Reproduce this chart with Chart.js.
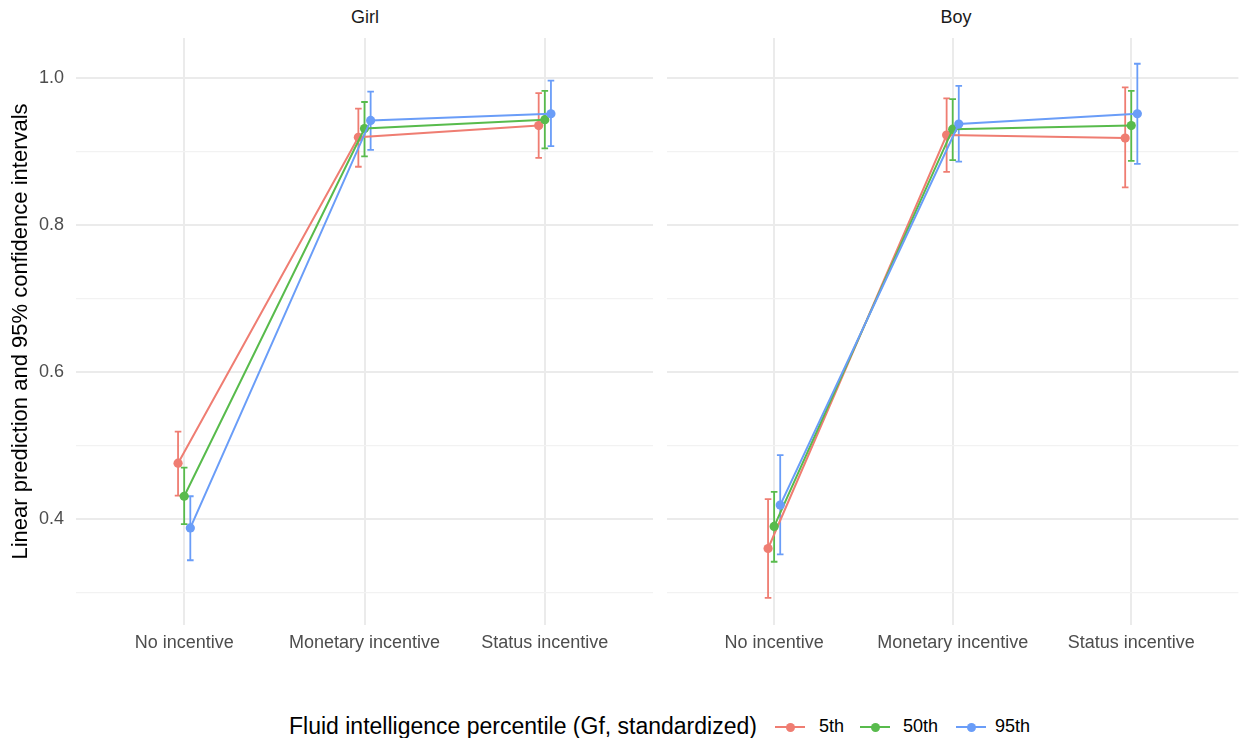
<!DOCTYPE html>
<html>
<head>
<meta charset="utf-8">
<script src="https://cdn.jsdelivr.net/npm/chart.js@4/dist/chart.umd.min.js"></script>
<style>
  html, body { margin: 0; padding: 0; background: #ffffff; }
  body { width: 1243px; height: 738px; position: relative; overflow: hidden;
         font-family: "Liberation Sans", Arial, Helvetica, sans-serif; }
  .panel { position: absolute; }
  .strip { position: absolute; top: 7px; font-size: 18px; line-height: 21px; color: #1A1A1A; transform: translateX(-50%); white-space: nowrap; }
  .lg { position: absolute; white-space: nowrap; color: #000; }
  .lg.ttl { left: 289px; top: 712px; font-size: 23px; line-height: 28px; }
  .lg.txt { top: 715px; font-size: 18px; line-height: 22px; }
  .lg.sym { top: 718px; width: 30px; height: 18px; }
  .lg.sym .ln { position: absolute; left: 0; right: 0; top: 8px; height: 2px; }
  .lg.sym .pt { position: absolute; left: 10.5px; top: 4.5px; width: 9px; height: 9px; border-radius: 50%; }
</style>
</head>
<body>
<div class="strip" style="left:365px">Girl</div>
<div class="strip" style="left:956px">Boy</div>
<div class="panel" style="left:0px;top:28px;width:660px;height:640px"><canvas id="girl"></canvas></div>
<div class="panel" style="left:660px;top:28px;width:583px;height:640px"><canvas id="boy"></canvas></div>
<div id="legend"></div>
<script>
// Categories and series
const categories = ['No incentive', 'Monetary incentive', 'Status incentive'];
const seriesNames = ['5th', '50th', '95th'];
const seriesColors = ['#EF7D72', '#58BB4C', '#6A9DF8'];

// Girl: predictions with lower / upper 95% bounds
const girl5  = [0.476, 0.919, 0.935];
const girl5Lo = [0.432, 0.879, 0.891];
const girl5Hi = [0.519, 0.958, 0.979];
const girl50 = [0.431, 0.931, 0.943];
const girl50Lo = [0.393, 0.893, 0.904];
const girl50Hi = [0.470, 0.967, 0.982];
const girl95 = [0.388, 0.942, 0.951];
const girl95Lo = [0.344, 0.902, 0.907];
const girl95Hi = [0.431, 0.981, 0.996];

// Boy: predictions with lower / upper 95% bounds
const boy5  = [0.360, 0.922, 0.918];
const boy5Lo = [0.293, 0.872, 0.851];
const boy5Hi = [0.427, 0.972, 0.987];
const boy50 = [0.390, 0.930, 0.935];
const boy50Lo = [0.342, 0.888, 0.887];
const boy50Hi = [0.437, 0.971, 0.982];
const boy95 = [0.419, 0.937, 0.951];
const boy95Lo = [0.352, 0.886, 0.883];
const boy95Hi = [0.487, 0.989, 1.019];

// y-axis ticks: labelled majors and unlabelled minors
const yMajorTicks = [0.4, 0.6, 0.8, 1.0];
const yMinorTicks = [0.3, 0.5, 0.7, 0.9];

const Y_MIN = 0.256, Y_MAX = 1.054;
const DODGE = 0.034;          // horizontal dodge between series, in category units
const FONT = '"Liberation Sans", Arial, Helvetica, sans-serif';

function makeDatasets(vals, los, his) {
  return vals.map((v, s) => ({
    label: seriesNames[s],
    data: v.map((y, i) => ({ x: i + (s - 1) * DODGE, y: y, lo: los[s][i], hi: his[s][i] })),
    borderColor: seriesColors[s],
    backgroundColor: seriesColors[s],
    borderWidth: 2,
    pointRadius: 4.6,
    pointBorderWidth: 0,
    pointHoverRadius: 4.6,
    showLine: true,
    tension: 0,
    order: 2 - s
  }));
}

// Error bars drawn through the chart's own scales
const errorBars = {
  id: 'errorBars',
  beforeDatasetsDraw(chart) {
    const ctx = chart.ctx;
    const xs = chart.scales.x, ys = chart.scales.y;
    const metas = chart.getSortedVisibleDatasetMetas().slice().reverse();
    metas.forEach(meta => {
      const ds = chart.data.datasets[meta.index];
      ctx.save();
      ctx.strokeStyle = ds.borderColor;
      ctx.lineWidth = 1.8;
      ds.data.forEach(p => {
        const x = xs.getPixelForValue(p.x);
        const y1 = ys.getPixelForValue(p.lo);
        const y2 = ys.getPixelForValue(p.hi);
        ctx.beginPath();
        ctx.moveTo(x, y1); ctx.lineTo(x, y2);
        ctx.moveTo(x - 3.3, y1); ctx.lineTo(x + 3.3, y1);
        ctx.moveTo(x - 3.3, y2); ctx.lineTo(x + 3.3, y2);
        ctx.stroke();
      });
      ctx.restore();
    });
  }
};

function makeChart(id, datasets, showY) {
  return new Chart(document.getElementById(id), {
    type: 'line',
    data: { datasets: datasets },
    plugins: [errorBars],
    options: {
      responsive: true,
      maintainAspectRatio: false,
      animation: false,
      events: [],
      layout: { padding: showY ? { top: 10, right: 7, left: 0, bottom: 0 } : { top: 10, right: 2, left: 7, bottom: 0 } },
      plugins: { legend: { display: false }, tooltip: { enabled: false } },
      scales: {
        x: {
          type: 'linear',
          min: -0.6, max: 2.6,
          afterBuildTicks: sc => { sc.ticks = categories.map((c, i) => ({ value: i })); },
          afterFit: sc => { sc.height = 43; sc.paddingLeft = 0; sc.paddingRight = 0; },
          ticks: {
            callback: v => categories[v],
            color: '#4D4D4D',
            font: { family: FONT, size: 18 },
            padding: 7,
            maxRotation: 0,
            autoSkip: false
          },
          grid: { color: '#EBEBEB', lineWidth: 2, drawTicks: false },
          border: { display: false }
        },
        y: {
          min: Y_MIN, max: Y_MAX,
          afterBuildTicks: sc => {
            sc.ticks = yMinorTicks.concat(yMajorTicks).sort((a, b) => a - b).map(v => ({ value: v }));
          },
          afterFit: sc => { sc.width = showY ? 76 : 0; sc.paddingTop = 0; sc.paddingBottom = 0; },
          ticks: {
            display: showY,
            callback: v => yMajorTicks.some(m => Math.abs(m - v) < 1e-9) ? v.toFixed(1) : '',
            color: '#4D4D4D',
            font: { family: FONT, size: 18 },
            padding: 12
          },
          title: {
            display: showY,
            text: 'Linear prediction and 95% confidence intervals',
            color: '#000000',
            font: { family: FONT, size: 22 },
            padding: { top: 8, bottom: 0 }
          },
          grid: {
            drawTicks: false,
            color: c => yMajorTicks.some(m => Math.abs(m - c.tick.value) < 1e-9) ? '#EBEBEB' : '#F2F2F2',
            lineWidth: c => yMajorTicks.some(m => Math.abs(m - c.tick.value) < 1e-9) ? 2 : 1.2
          },
          border: { display: false }
        }
      }
    }
  });
}

makeChart('girl', makeDatasets([girl5, girl50, girl95], [girl5Lo, girl50Lo, girl95Lo], [girl5Hi, girl50Hi, girl95Hi]), true);
makeChart('boy', makeDatasets([boy5, boy50, boy95], [boy5Lo, boy50Lo, boy95Lo], [boy5Hi, boy50Hi, boy95Hi]), false);

// Legend: title, then key + label for each series
const legend = document.getElementById('legend');
const legendKeyLeft = [775, 860, 956];
const legendTextLeft = [819, 903, 995];
const ttl = document.createElement('div');
ttl.className = 'lg ttl';
ttl.textContent = 'Fluid intelligence percentile (Gf, standardized)';
legend.appendChild(ttl);
seriesNames.forEach((n, s) => {
  const sym = document.createElement('div');
  sym.className = 'lg sym';
  sym.style.left = legendKeyLeft[s] + 'px';
  sym.innerHTML = '<span class="ln" style="background:' + seriesColors[s] +
    '"></span><span class="pt" style="background:' + seriesColors[s] + '"></span>';
  legend.appendChild(sym);
  const txt = document.createElement('div');
  txt.className = 'lg txt';
  txt.style.left = legendTextLeft[s] + 'px';
  txt.textContent = n;
  legend.appendChild(txt);
});
</script>
</body>
</html>
